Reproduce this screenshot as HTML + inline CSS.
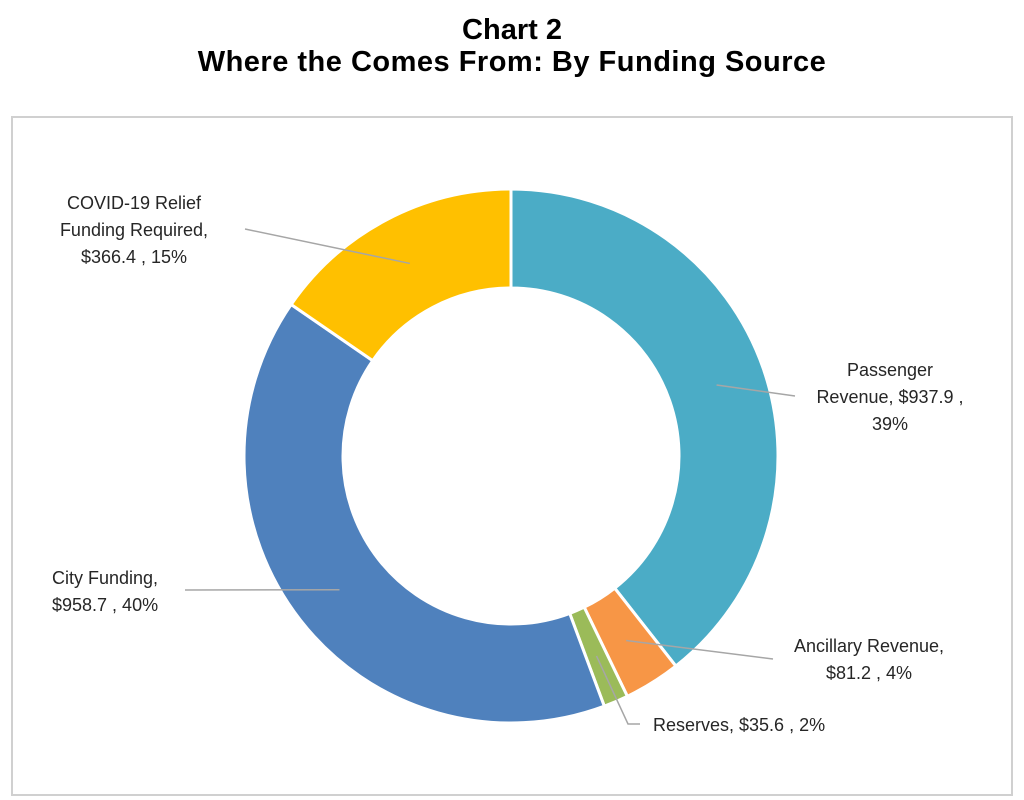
<!DOCTYPE html>
<html><head><meta charset="utf-8"><style>
body{margin:0;background:#fff;width:1024px;height:800px;overflow:hidden;font-family:"Liberation Sans",sans-serif}
.t{position:absolute;left:0;width:1024px;text-align:center;font-weight:bold;font-size:29px;color:#000}
</style></head><body>
<div class="t" style="top:14px">Chart 2</div>
<div class="t" style="top:46px;letter-spacing:0.5px">Where the Comes From: By Funding Source</div>
<svg id="c" width="1024" height="800" style="position:absolute;left:0;top:0">
<rect x="12" y="117" width="1000" height="678" fill="none" stroke="#d0d0d0" stroke-width="2"/>
</svg>
<script>
const categories=["Passenger Revenue","Ancillary Revenue","Reserves","City Funding","COVID-19 Relief Funding Required"];
const values=[937.9,81.2,35.6,958.7,366.4];
const colors=["#4BACC6","#F79646","#9BBB59","#4F81BD","#FFC000"];
const labelLines=[["Passenger","Revenue,  $937.9 ,","39%"],["Ancillary Revenue,","$81.2 , 4%"],["Reserves,  $35.6 , 2%"],["City Funding,","$958.7 , 40%"],["COVID-19 Relief","Funding Required,","$366.4 , 15%"]];
const svg=document.getElementById('c');const NS='http://www.w3.org/2000/svg';
const cx=511,cy=456,R=267,r=168;
const total=values.reduce((a,b)=>a+b,0);
function pt(a,rad){return [cx+rad*Math.sin(a),cy-rad*Math.cos(a)];}
let a0=0;const mids=[];
values.forEach((v,i)=>{const a1=a0+v/total*2*Math.PI;const lg=(a1-a0)>Math.PI?1:0;
const p1=pt(a0,R),p2=pt(a1,R),p3=pt(a1,r),p4=pt(a0,r);
const p=document.createElementNS(NS,'path');
p.setAttribute('d',`M${p1}A${R},${R} 0 ${lg} 1 ${p2}L${p3}A${r},${r} 0 ${lg} 0 ${p4}Z`);
p.setAttribute('fill',colors[i]);p.setAttribute('stroke','#fff');p.setAttribute('stroke-width','3');


svg.appendChild(p);mids.push((a0+a1)/2);a0=a1;});
const lay=[
 {anc:'middle',x:890,y:376,lead:[[null],[795,396]]},
 {anc:'middle',x:869,y:652,lead:[[null],[773,659]]},
 {anc:'start',x:653,y:731,lead:[[null],[628,724],[640,724]]},
 {anc:'start',x:52,y:584,lead:[[null],[185,590]]},
 {anc:'middle',x:134,y:209,lead:[[null],[245,229]]}];
lay.forEach((L,i)=>{const m=pt(mids[i],(R+r)/2);
const pts=[m].concat(L.lead.slice(1));
const pl=document.createElementNS(NS,'polyline');
pl.setAttribute('points',pts.map(p=>p.join(',')).join(' '));
pl.setAttribute('fill','none');pl.setAttribute('stroke','#a6a6a6');pl.setAttribute('stroke-width','1.5');


svg.appendChild(pl);
const t=document.createElementNS(NS,'text');
t.setAttribute('text-anchor',L.anc);t.setAttribute('font-size','18');t.setAttribute('fill','#262626');
t.setAttribute('font-family','Liberation Sans, sans-serif');


labelLines[i].forEach((s,j)=>{const ts=document.createElementNS(NS,'tspan');ts.setAttribute('x',L.x);ts.setAttribute('y',L.y+j*27);ts.textContent=s;t.appendChild(ts);});
svg.appendChild(t);});
</script>
</body></html>
